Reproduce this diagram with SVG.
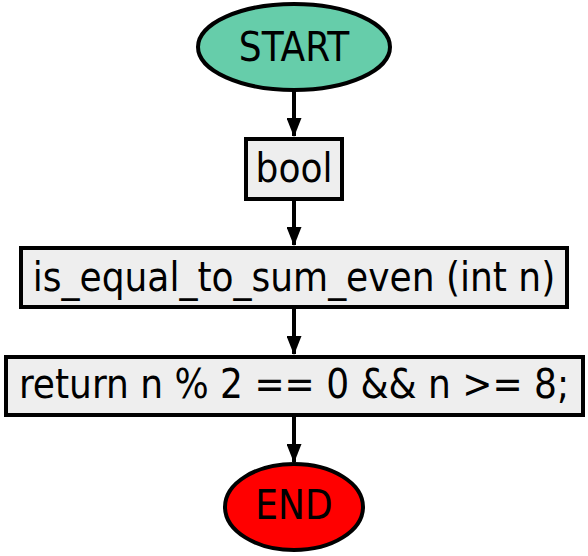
<svg xmlns="http://www.w3.org/2000/svg" width="588" height="556" viewBox="0 0 588 556">
<style>
.n{stroke:#000;stroke-width:4}
.b{fill:#eeeeee}
.t{font-family:"DejaVu Sans Condensed","DejaVu Sans",sans-serif;font-stretch:condensed;font-size:40px;text-anchor:middle;fill:#000}
.e{stroke:#000;stroke-width:4;fill:none}
</style>
<defs>
<marker id="a" markerWidth="19" markerHeight="15" refX="18" refY="7.5" orient="auto" markerUnits="userSpaceOnUse">
<path d="M0,0 L19,7.5 L0,15 Z" fill="#000"/>
</marker>
</defs>
<rect width="588" height="556" fill="#fff"/>
<g id="connectors">
<line class="e" x1="294" y1="91" x2="294" y2="136" marker-end="url(#a)"/>
<line class="e" x1="294" y1="201" x2="294" y2="245" marker-end="url(#a)"/>
<line class="e" x1="294" y1="309" x2="294" y2="354" marker-end="url(#a)"/>
<line class="e" x1="294" y1="417" x2="294" y2="462" marker-end="url(#a)"/>
</g>
<g id="start">
<ellipse class="n" cx="294" cy="47" rx="96" ry="43" fill="#66cdaa"/>
<text class="t" x="294" y="61">START</text>
</g>
<g id="bool">
<rect class="n b" x="246" y="139" width="96" height="60"/>
<text class="t" x="294" y="182">bool</text>
</g>
<g id="func">
<rect class="n b" x="21" y="248" width="546" height="59"/>
<text class="t" x="294" y="291">is_equal_to_sum_even (int n)</text>
</g>
<g id="ret">
<rect class="n b" x="6" y="357" width="577" height="58"/>
<text class="t" x="294" y="398">return n % 2 == 0 &amp;&amp; n &gt;= 8;</text>
</g>
<g id="end">
<ellipse class="n" cx="294" cy="507" rx="69" ry="43" fill="#ff0000"/>
<text class="t" x="294" y="519">END</text>
</g>
</svg>
